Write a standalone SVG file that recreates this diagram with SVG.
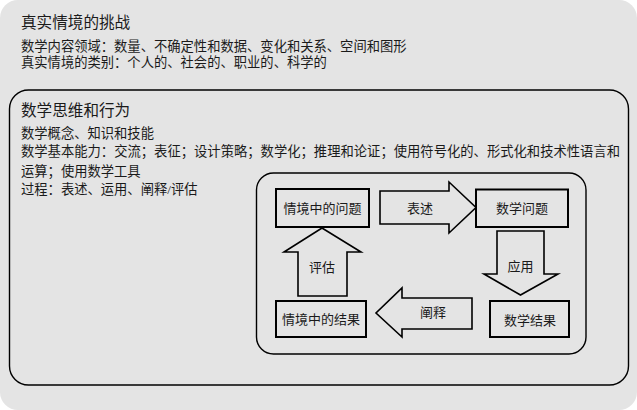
<svg xmlns="http://www.w3.org/2000/svg" width="637" height="410" viewBox="0 0 637 410">
  <style>
    text { font-family: "Liberation Serif", "Noto Sans CJK SC", serif; fill: #1a1a1a; dominant-baseline: central; }
    .h { font-size: 15.6px; }
    .t { font-size: 13.3px; }
    .c { font-size: 13px; text-anchor: middle; }
    .box { fill: #e4e4e4; stroke: #000; stroke-width: 2; }
    .arrow { fill: #e4e4e4; stroke: #000; stroke-width: 1.6; stroke-linejoin: miter; }
    .frame { fill: none; stroke: #000; stroke-width: 1.4; }
  </style>
  <rect x="0" y="0" width="637" height="410" rx="18" ry="18" fill="#e4e4e4"/>
  <g id="challenge">
    <text class="h" x="21" y="22.5">真实情境的挑战</text>
    <text class="t" x="21" y="46">数学内容领域：数量、不确定性和数据、变化和关系、空间和图形</text>
    <text class="t" x="21" y="62">真实情境的类别：个人的、社会的、职业的、科学的</text>
  </g>
  <g id="thinking">
    <rect class="frame" x="9.5" y="90" width="619" height="295" rx="19" ry="19"/>
    <text class="h" x="21" y="110.5">数学思维和行为</text>
    <text class="t" x="21" y="133">数学概念、知识和技能</text>
    <text class="t" x="21" y="151.7" textLength="599" lengthAdjust="spacingAndGlyphs">数学基本能力：交流；表征；设计策略；数学化；推理和论证；使用符号化的、形式化和技术性语言和</text>
    <text class="t" x="21" y="171">运算；使用数学工具</text>
    <text class="t" x="21" y="189">过程：表述、运用、阐释/评估</text>
  </g>
  <g id="cycle">
    <rect class="frame" x="256.5" y="173" width="329.5" height="181" rx="17" ry="17"/>
  </g>
  <g id="connectors">
    <g id="arrow-formulate">
      <polygon class="arrow" points="380,191 449,191 449,182 476,207.5 449,233 449,224 380,224"/>
      <text class="c" x="420" y="208">表述</text>
    </g>
    <g id="arrow-employ">
      <polygon class="arrow" points="497,231 544,231 544,274 558,274 520.5,295 484,274 497,274"/>
      <text class="c" x="520.5" y="266">应用</text>
    </g>
    <g id="arrow-interpret">
      <polygon class="arrow" points="472,298 402,298 402,288 376,313 402,337 402,329 472,329"/>
      <text class="c" x="433" y="312">阐释</text>
    </g>
    <g id="arrow-evaluate">
      <polygon class="arrow" points="298,296 298,252 284,252 322,228 361,252 347,252 347,296"/>
      <text class="c" x="322" y="267">评估</text>
    </g>
  </g>
  <g id="node-context-problem">
    <rect class="box" x="276" y="189" width="93" height="38"/>
    <text class="c" x="322.5" y="208">情境中的问题</text>
  </g>
  <g id="node-math-problem">
    <rect class="box" x="476" y="189.5" width="92" height="37.5"/>
    <text class="c" x="522" y="208">数学问题</text>
  </g>
  <g id="node-math-result">
    <rect class="box" x="490" y="301" width="79" height="36"/>
    <text class="c" x="530" y="320">数学结果</text>
  </g>
  <g id="node-context-result">
    <rect class="box" x="276" y="301" width="90" height="36"/>
    <text class="c" x="321" y="319">情境中的结果</text>
  </g>
</svg>
